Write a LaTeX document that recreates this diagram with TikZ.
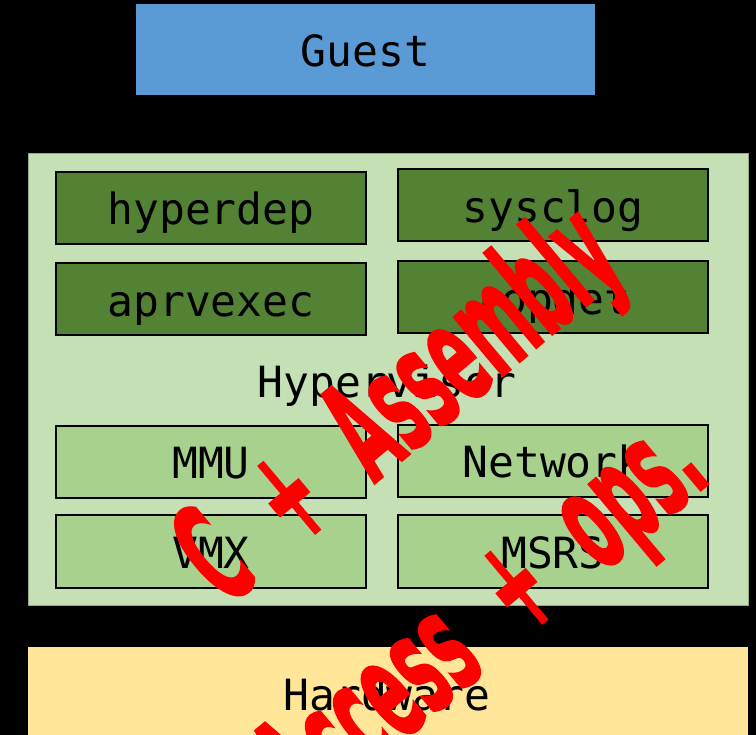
\documentclass[tikz,border=0pt]{standalone}
\usepackage{fontspec}
\setmonofont{DejaVu Sans Mono}
\newfontfamily\stampfont[FakeBold=1.6]{DejaVu Sans}
\usetikzlibrary{positioning}

\definecolor{guestblue}{HTML}{5B9BD5}
\definecolor{hvgreen}{HTML}{C5E0B4}
\definecolor{moddark}{HTML}{548235}
\definecolor{modlight}{HTML}{A9D18E}
\definecolor{hwyellow}{HTML}{FFE699}

\newcommand{\stampgap}{\hspace{0.43em}}

\begin{document}
\begin{tikzpicture}[x=1pt,y=-1pt,
  label/.style={font=\fontsize{43}{43}\ttfamily, text=black, inner sep=0pt,
    text height=34pt, text depth=0pt},
  layer/.style={inner sep=0pt, draw=none},
  module/.style={draw=black, line width=2pt, minimum width=310pt,
    minimum height=72pt, inner sep=0pt, text height=34pt, text depth=0pt,
    font=\fontsize{43}{43}\ttfamily},
  stamp/.style={text=red, inner sep=0pt, xscale=0.44,
    font=\fontsize{140}{140}\stampfont\bfseries}]

  \def\xmax{756}
  \def\ymax{735}

  % background
  \clip (0,0) rectangle (\xmax,\ymax);
  \fill[black] (0,0) rectangle (\xmax,\ymax);

  % guest
  \node[layer, fill=guestblue, minimum width=459pt, minimum height=91pt]
    (guest) at (365.5,49.5) {};
  \node[label] (guestlabel) at (guest) {Guest};

  % hypervisor
  \node[layer, fill=hvgreen, draw=hvgreen!75!black, line width=0.8pt,
    minimum width=720pt, minimum height=452pt] (hyper) at (388,379) {};
  \node[label] (hyperlabel) at (387,381) {Hypervisor};

  \node[module, fill=moddark] (hyperdep) at (211,208)   {hyperdep};
  \node[module, fill=moddark] (sysclog)  at (553,205.5) {sysclog};
  \node[module, fill=moddark] (aprvexec) at (211,299.5) {aprvexec};
  \node[module, fill=moddark] (ropdet)   at (553,297.5) {ropdet};

  \node[module, fill=modlight] (mmu)     at (211,462)   {MMU};
  \node[module, fill=modlight] (network) at (553,461)   {Network};
  \node[module, fill=modlight] (vmx)     at (211,551.5) {VMX};
  \node[module, fill=modlight] (msrs)    at (553,551.5) {MSRS};

  % hardware
  \node[layer, fill=hwyellow, minimum width=720pt, minimum height=132pt]
    (hw) at (388,713) {};
  \node[label] (hwlabel) at (387,693) {Hardware};

  % stamp
  \node[rotate=40, stamp] (stampone) at (403,410)
    {C \stampgap+ \stampgap Assembly};
  \node[rotate=40, stamp] (stamptwo) at (487,622)
    {Access \stampgap+ \stampgap ops.};

\end{tikzpicture}
\end{document}
